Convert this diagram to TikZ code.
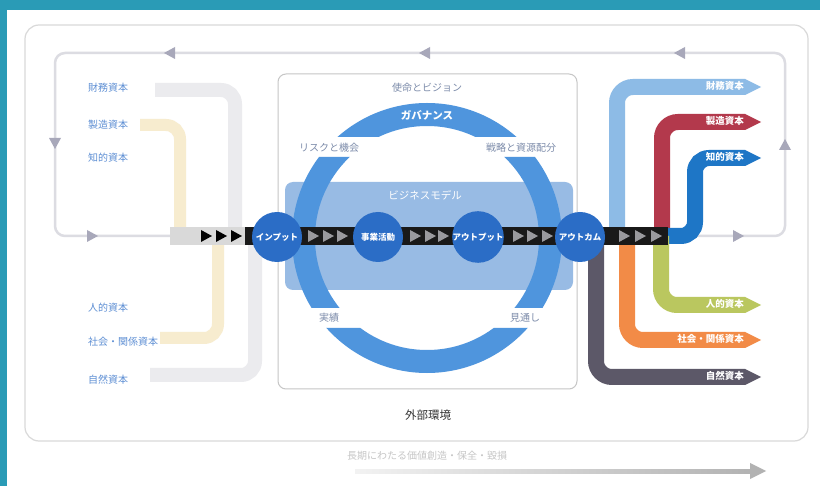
\documentclass[tikz,border=0pt]{standalone}
\usepackage{fontspec}
\setmainfont{Noto Sans CJK JP}
\usetikzlibrary{calc}
\definecolor{frameteal}{HTML}{2A9BB6}
\definecolor{loopgray}{HTML}{DCDCE2}
\definecolor{loophead}{HTML}{A8A8BA}
\definecolor{inlabel}{HTML}{5E8FD4}
\definecolor{midlabel}{HTML}{7D8CAA}
\definecolor{ringblue}{HTML}{4F95DD}
\definecolor{bmfill}{HTML}{98BBE4}
\definecolor{stageblue}{HTML}{2B6DC6}
\definecolor{capsky}{HTML}{8DBBE6}
\definecolor{capred}{HTML}{B3394C}
\definecolor{capblue}{HTML}{1E76C6}
\definecolor{capolive}{HTML}{BAC75F}
\definecolor{caporange}{HTML}{F28B47}
\definecolor{capslate}{HTML}{5C5868}
\definecolor{fadegray}{HTML}{EBEBEE}
\definecolor{fadeyellow}{HTML}{F7ECCF}
\definecolor{flowtri}{HTML}{9A9A9E}

\tikzset{
  tri/.pic={\fill[#1] (-5,-6) -- (6,0) -- (-5,6) -- cycle;},
  captip/.pic={\fill[#1] (0,-8) -- (16,0) -- (0,8) -- cycle;},
  loopline/.style={draw=loopgray, line width=2.5pt, rounded corners=10pt},
  fadeband/.style={line width=14pt, rounded corners=14pt},
  capband/.style={line width=16pt, rounded corners=16pt},
  stage/.style={circle, fill=stageblue, minimum size=50pt, inner sep=0pt,
    text=white, font=\fontsize{8.5}{9}\selectfont\bfseries},
  inlbl/.style={anchor=west, text=inlabel, font=\fontsize{10}{12}\selectfont, inner sep=0pt},
  outlbl/.style={anchor=east, text=white, font=\fontsize{9.5}{11}\selectfont\bfseries, inner sep=0pt},
  midlbl/.style={text=midlabel, font=\fontsize{10}{12}\selectfont, inner sep=0pt},
}

\begin{document}
\begin{tikzpicture}[x=1pt,y=-1pt]
\useasboundingbox (0,0) rectangle (820,486);
\fill[white] (0,0) rectangle (820,486);
\fill[frameteal] (0,0) rectangle (820,10);
\fill[frameteal] (0,0) rectangle (7,486);

% outer frame: external environment
\draw[gray!30, line width=1.2pt, rounded corners=14pt] (25,25) rectangle (808,441);

% key points of the value flow
\coordinate (loopIn) at (170,236);
\coordinate (loopOut) at (668,236);
\coordinate (ringc) at (427,238);
\coordinate (pIn) at (277,237);
\coordinate (pAct) at (378,237);
\coordinate (pOutp) at (478,237);
\coordinate (pOutc) at (580,237);

% feedback loop
\draw[loopline] (loopOut) -- (785,236) -- (785,53) -- (55,53) -- (55,236) -- (loopIn);
\pic[rotate=180] at (170,53) {tri=loophead};
\pic[rotate=180] at (425,53) {tri=loophead};
\pic[rotate=180] at (680,53) {tri=loophead};
\pic[rotate=270] at (55,143) {tri=loophead};
\pic[rotate=90] at (785,145) {tri=loophead};
\pic at (92,236) {tri=loophead};
\pic at (738,236) {tri=loophead};

% faint input streams
\draw[fadeband, draw=fadegray] (155,90) -- (235,90) -- (235,236);
\draw[fadeband, draw=fadeyellow, line width=12pt] (140,125) -- (180,125) -- (180,236);
\draw[fadeband, draw=fadeyellow, line width=12pt] (160,338) -- (218,338) -- (218,236);
\draw[fadeband, draw=fadegray] (150,375) -- (255,375) -- (255,236);

% business model panel
\fill[bmfill, rounded corners=8pt] (285,182) rectangle (573,290);

% governance ring, split into arcs
\begin{scope}
  \clip (0,0) rectangle (820,137) (0,157) rectangle (820,308) (0,328) rectangle (820,486);
  \draw[ringblue, line width=23pt] (ringc) circle (123.5);
\end{scope}

% organisation box
\draw[gray!45, line width=1pt, rounded corners=8pt] (278,74) rectangle (577,389);

% output capitals
\draw[capband, draw=capsky] (617,236) -- (617,87) -- (745,87);
\pic at (745,87) {captip=capsky};
\draw[capband, draw=capred] (662,236) -- (662,122) -- (745,122);
\pic at (745,122) {captip=capred};
\draw[capband, draw=capblue, rounded corners=14pt] (650,236) -- (695,236) -- (695,158) -- (745,158);
\pic at (745,158) {captip=capblue};
\draw[capband, draw=capolive] (661,236) -- (661,305) -- (745,305);
\pic at (745,305) {captip=capolive};
\draw[capband, draw=caporange] (627,236) -- (627,340) -- (745,340);
\pic at (745,340) {captip=caporange};
\draw[capband, draw=capslate] (596,236) -- (596,377) -- (745,377);
\pic at (745,377) {captip=capslate};

% main flow
\draw[line width=18pt, draw=gray!30] (loopIn) -- (248,236);
\draw[line width=18pt, draw=black!90] (245,236) -- (loopOut);
\foreach \x in {206,221,236} \pic at (\x,236) {tri=black};
\foreach \x in {313,328,342, 415,430,443, 518,532,547, 624,640,656}
  \pic at (\x,236) {tri=flowtri};

% stages
\node[stage] (input) at (pIn) {インプット};
\node[stage] (activity) at (pAct) {事業活動};
\node[stage] (output) at (pOutp) {アウトプット};
\node[stage] (outcome) at (pOutc) {アウトカム};

% input capital labels
\node[inlbl] (i1) at (88,88) {財務資本};
\node[inlbl] (i2) at (88,125) {製造資本};
\node[inlbl] (i3) at (88,158) {知的資本};
\node[inlbl] (i4) at (88,308) {人的資本};
\node[inlbl] (i5) at (88,342) {社会・関係資本};
\node[inlbl] (i6) at (88,380) {自然資本};

% output capital labels
\node[outlbl] (o1) at (744,86) {財務資本};
\node[outlbl] (o2) at (744,121) {製造資本};
\node[outlbl] (o3) at (744,157) {知的資本};
\node[outlbl] (o4) at (744,304) {人的資本};
\node[outlbl] (o5) at (744,339) {社会・関係資本};
\node[outlbl] (o6) at (744,376) {自然資本};

% ring and panel labels
\node[midlbl] (vision) at (427,88) {使命とビジョン};
\node[text=white, font=\fontsize{10.5}{12}\selectfont\bfseries, inner sep=0pt] (gov) at (427,115) {ガバナンス};
\node[midlbl] (risk) at (329,148) {リスクと機会};
\node[midlbl] (strat) at (521,148) {戦略と資源配分};
\node[midlbl] (perf) at (329,318) {実績};
\node[midlbl] (outlook) at (525,318) {見通し};
\node[text=white, font=\fontsize{10.5}{12}\selectfont, inner sep=0pt] (bm) at (425,195) {ビジネスモデル};
\node[text=black!80, font=\fontsize{11.5}{13}\selectfont, inner sep=0pt] (env) at (428,415) {外部環境};

% long-term arrow
\node[text=gray!45, font=\fontsize{10}{12}\selectfont, inner sep=0pt] (longterm) at (427,456) {長期にわたる価値創造・保全・毀損};
\coordinate (tA) at (355,471);
\coordinate (tB) at (750,471);
\shade[left color=gray!10, right color=gray!60] ($(tA)+(0,-2)$) rectangle ($(tB)+(0,2)$);
\pic at (tB) {captip=gray!60};
\end{tikzpicture}
\end{document}
